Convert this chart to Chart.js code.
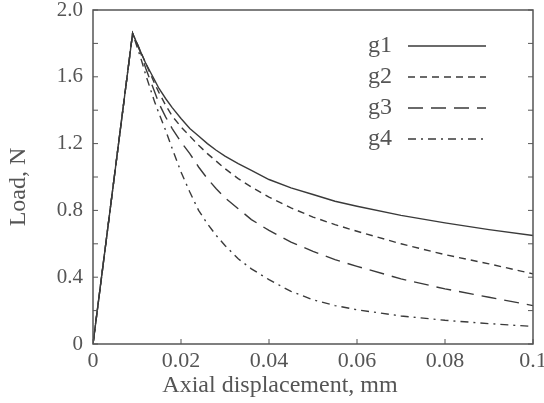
<!DOCTYPE html>
<html><head><meta charset="utf-8">
<script src="https://cdn.jsdelivr.net/npm/chart.js@4"></script>
<style>html,body{margin:0;padding:0;background:#fff}</style>
</head><body>
<canvas id="c" width="544" height="403"></canvas>
<script>
// Axial displacement (mm)
const displacement = [0, 0.009, 0.010, 0.011, 0.012, 0.013, 0.014, 0.015, 0.0165, 0.018, 0.02, 0.022, 0.024, 0.026, 0.028, 0.03, 0.033, 0.036, 0.04, 0.045, 0.05, 0.055, 0.06, 0.07, 0.08, 0.09, 0.1];
// Load (N)
const g1 = [0, 1.86, 1.80, 1.74, 1.68, 1.63, 1.58, 1.53, 1.47, 1.415, 1.35, 1.29, 1.245, 1.20, 1.16, 1.125, 1.08, 1.04, 0.985, 0.935, 0.895, 0.855, 0.825, 0.77, 0.725, 0.685, 0.65];
const g2 = [0, 1.86, 1.80, 1.74, 1.68, 1.62, 1.56, 1.505, 1.43, 1.365, 1.30, 1.245, 1.19, 1.14, 1.095, 1.05, 0.99, 0.94, 0.88, 0.815, 0.76, 0.715, 0.675, 0.60, 0.535, 0.48, 0.42];
const g3 = [0, 1.86, 1.80, 1.73, 1.65, 1.58, 1.51, 1.44, 1.36, 1.29, 1.21, 1.14, 1.06, 0.99, 0.93, 0.875, 0.81, 0.745, 0.68, 0.61, 0.555, 0.505, 0.465, 0.39, 0.33, 0.28, 0.23];
const g4 = [0, 1.86, 1.78, 1.70, 1.61, 1.53, 1.45, 1.38, 1.28, 1.17, 1.03, 0.91, 0.80, 0.72, 0.65, 0.59, 0.51, 0.45, 0.385, 0.315, 0.265, 0.23, 0.205, 0.168, 0.142, 0.122, 0.105];
const seriesNames = ['g1', 'g2', 'g3', 'g4'];
const seriesValues = [g1, g2, g3, g4];
const xTitle = 'Axial displacement, mm';
const yTitle = 'Load, N';

const LINE = '#3a3a3a';
const TEXT = '#555';
const dashes = [[], [7, 5], [15, 8], [8, 5, 2, 5]];

Chart.defaults.font.family = "'Liberation Serif', 'DejaVu Serif', serif";

const datasets = seriesNames.map((name, i) => ({
  label: name,
  data: displacement.map((x, k) => ({x, y: seriesValues[i][k]})),
  showLine: true,
  borderColor: LINE,
  borderWidth: 1.4,
  borderDash: dashes[i],
  pointRadius: 0,
  tension: 0,
  fill: false
})).reverse();

const framePlugin = {
  id: 'frame',
  afterDraw(chart) {
    const {ctx, chartArea: a, scales: {x, y}} = chart;
    ctx.save();
    ctx.strokeStyle = TEXT;
    ctx.lineWidth = 1.5;
    ctx.setLineDash([]);
    ctx.strokeRect(a.left, a.top, a.right - a.left, a.bottom - a.top);
    ctx.lineWidth = 1;
    const seg = (x1, y1, x2, y2) => { ctx.beginPath(); ctx.moveTo(x1, y1); ctx.lineTo(x2, y2); ctx.stroke(); };
    y.ticks.forEach(t => {
      const py = y.getPixelForValue(t.value);
      seg(a.left, py, a.left + 5, py);
      seg(a.right - 5, py, a.right, py);
    });
    x.ticks.forEach(t => {
      const px = x.getPixelForValue(t.value);
      seg(px, a.bottom, px, a.bottom - 5);
    });
    // axis titles
    ctx.fillStyle = TEXT;
    ctx.font = "24px 'Liberation Serif'";
    ctx.textAlign = 'center';
    ctx.textBaseline = 'middle';
    ctx.fillText(xTitle, 280, 386);
    ctx.save();
    ctx.translate(19, 187);
    ctx.rotate(-Math.PI / 2);
    ctx.fillText(yTitle, 0, 0);
    ctx.restore();
    // legend: name then line sample
    ctx.textAlign = 'left';
    seriesNames.forEach((name, i) => {
      const ly = 46 + i * 31;
      ctx.fillText(name, 368, ly);
      ctx.strokeStyle = LINE;
      ctx.lineWidth = 1.4;
      ctx.setLineDash(dashes[i]);
      seg(408, ly, 486, ly);
    });
    ctx.restore();
  }
};

new Chart(document.getElementById('c'), {
  type: 'scatter',
  data: {datasets},
  options: {
    responsive: false,
    animation: false,
    devicePixelRatio: 1,
    layout: {padding: {left: 0, right: 11, top: 10, bottom: 0}},
    plugins: {legend: {display: false}, tooltip: {enabled: false}},
    scales: {
      x: {
        type: 'linear', min: 0, max: 0.1,
        afterFit(s) { s.height = 59; s.paddingLeft = 0; s.paddingRight = 0; },
        border: {display: false},
        grid: {display: false, drawTicks: false},
        ticks: {
          stepSize: 0.02, padding: 4, color: TEXT, maxRotation: 0,
          font: {size: 22},
          callback: v => { const r = Math.round(v * 100) / 100; if (r === 0) return '0'; if (r === 0.1) return '0.1'; return r.toFixed(2); }
        },
        title: {display: false}
      },
      y: {
        type: 'linear', min: 0, max: 2,
        afterFit(s) { s.width = 93; s.paddingTop = 0; s.paddingBottom = 0; },
        border: {display: false},
        grid: {display: false, drawTicks: false},
        ticks: {
          stepSize: 0.2, padding: 10, color: TEXT,
          font: {size: 21},
          callback: v => { const k = Math.round(v * 10); if (k % 4) return ''; return k === 0 ? '0' : (k / 10).toFixed(1); }
        },
        title: {display: false}
      }
    }
  },
  plugins: [framePlugin]
});
</script>
</body></html>
